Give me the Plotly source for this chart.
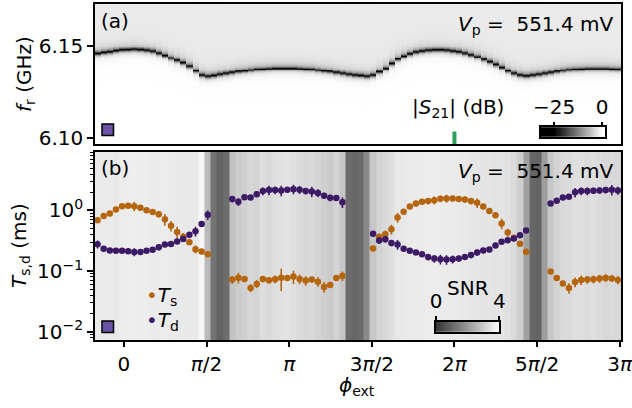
import numpy as np
import plotly.graph_objects as go

# ---------------- data ----------------
# external-flux sweep: one column per phi point
PHI_START = -0.5
PHI_STEP = np.pi / 27
N_PHI = 86
phi = PHI_START + PHI_STEP * np.arange(N_PHI)

# resonator frequency (GHz) at each flux point
f_res = [6.1459, 6.1464, 6.1467, 6.1473, 6.1477, 6.1478, 6.1480, 6.1478, 6.1475, 6.1470,
         6.1460, 6.1448, 6.1433, 6.1421, 6.1408, 6.1390, 6.1364, 6.1341, 6.1335, 6.1339,
         6.1345, 6.1350, 6.1355, 6.1361, 6.1364, 6.1368, 6.1372, 6.1373, 6.1375, 6.1377,
         6.1377, 6.1377, 6.1377, 6.1375, 6.1373, 6.1372, 6.1368, 6.1364, 6.1361, 6.1355,
         6.1350, 6.1345, 6.1341, 6.1339, 6.1335, 6.1341, 6.1359, 6.1377, 6.1404, 6.1428,
         6.1444, 6.1457, 6.1466, 6.1471, 6.1475, 6.1477, 6.1477, 6.1475, 6.1471, 6.1467,
         6.1460, 6.1451, 6.1440, 6.1426, 6.1413, 6.1399, 6.1383, 6.1364, 6.1350, 6.1341,
         6.1337, 6.1341, 6.1345, 6.1350, 6.1355, 6.1361, 6.1366, 6.1370, 6.1372, 6.1373,
         6.1375, 6.1375, 6.1375, 6.1375, 6.1373, 6.1372]

# switching times (ms); None where no fit
T_s = ([0.69, 0.81, 0.89, 1.04, 1.18, 1.20, 1.18, 1.11, 1.01, 0.94,
        0.87, 0.72, 0.56, 0.44, 0.37, 0.30, 0.23, 0.21, 0.19]
       + [None] * 3
       + [0.0724, 0.078, 0.0743, 0.0527, 0.0615, 0.0743, 0.0706, 0.0734, 0.078, 0.0772,
          0.0812, 0.0743, 0.0697, 0.0724, 0.067, 0.0548, 0.0592, 0.0772, 0.0833]
       + [None] * 4
       + [0.236, 0.367, 0.407, 0.492, 0.767, 0.952, 1.166, 1.31, 1.39, 1.43,
          1.48, 1.56, 1.58, 1.58, 1.54, 1.52, 1.43, 1.34, 1.166, 0.976,
          0.838, 0.61, 0.433, 0.354, 0.282, 0.208]
       + [None] * 3
       + [0.0982, 0.0772, 0.0622, 0.0527, 0.0663, 0.0715, 0.0724, 0.0734, 0.0753, 0.0772,
          0.0753, 0.0715])

T_d = ([0.278, 0.233, 0.218, 0.216, 0.216, 0.213, 0.207, 0.207, 0.216, 0.224,
        0.248, 0.274, 0.281, 0.307, 0.34, 0.396, 0.456, 0.60, 0.85]
       + [None] * 3
       + [1.54, 1.39, 1.66, 1.64, 1.86, 2.09, 2.17, 2.17, 2.14, 2.20,
          2.25, 2.20, 2.09, 2.06, 1.94, 1.75, 1.62, 1.60, 1.37]
       + [None] * 4
       + [0.412, 0.320, 0.336, 0.292, 0.275, 0.233, 0.216, 0.202, 0.190, 0.170,
          0.161, 0.157, 0.155, 0.157, 0.161, 0.170, 0.185, 0.202, 0.218, 0.227,
          0.264, 0.304, 0.324, 0.345, 0.392, 0.468]
       + [None] * 3
       + [1.31, 1.45, 1.64, 1.68, 1.99, 2.09, 2.09, 2.12, 2.14, 2.17,
          2.20, 2.14])

# relative fit uncertainties
T_s_relerr = ([0.10, 0.08, 0.06, 0.06, 0.08, 0.10, 0.18, 0.08, 0.06, 0.10,
               0.12, 0.22, 0.20, 0.22, 0.15, 0.08, 0.15, 0.10, 0.06]
              + [None] * 3
              + [0.15, 0.20, 0.12, 0.15, 0.15, 0.12, 0.12, 0.15, 0.40, 0.10,
                 0.25, 0.18, 0.18, 0.10, 0.18, 0.20, 0.10, 0.06, 0.18]
              + [None] * 4
              + [0.06, 0.10, 0.15, 0.18, 0.18, 0.10, 0.10, 0.10, 0.10, 0.12,
                 0.15, 0.12, 0.15, 0.10, 0.10, 0.12, 0.12, 0.18, 0.10, 0.10,
                 0.08, 0.20, 0.15, 0.10, 0.10, 0.06]
              + [None] * 3
              + [0.08, 0.08, 0.08, 0.20, 0.18, 0.18, 0.15, 0.15, 0.15, 0.15,
                 0.12, 0.15])

T_d_relerr = ([0.15, 0.06, 0.06, 0.06, 0.06, 0.06, 0.15, 0.06, 0.06, 0.06,
               0.12, 0.10, 0.08, 0.08, 0.10, 0.12, 0.18, 0.08, 0.18]
              + [None] * 3
              + [0.12, 0.15, 0.06, 0.06, 0.10, 0.15, 0.18, 0.15, 0.20, 0.06,
                 0.18, 0.15, 0.12, 0.20, 0.15, 0.12, 0.12, 0.10, 0.20]
              + [None] * 4
              + [0.06, 0.12, 0.12, 0.12, 0.18, 0.08, 0.08, 0.08, 0.10, 0.12,
                 0.15, 0.18, 0.18, 0.15, 0.12, 0.10, 0.12, 0.12, 0.10, 0.10,
                 0.08, 0.08, 0.06, 0.06, 0.08, 0.10]
              + [None] * 3
              + [0.08, 0.08, 0.08, 0.08, 0.18, 0.15, 0.15, 0.12, 0.12, 0.12,
                 0.20, 0.15])

# signal-to-noise ratio of each flux point
snr = ([3.59, 3.58, 3.60, 3.57, 3.62, 3.65, 3.66, 3.64, 3.65, 3.61,
        3.61, 3.62, 3.60, 3.57, 3.56, 3.58, 3.57, 3.82, 2.64]
       + [1.26, 0.97, 1.14]
       + [2.80, 2.98, 3.05, 3.21, 3.13, 3.33, 3.25, 3.37, 3.41, 3.45,
          3.37, 3.29, 3.21, 3.25, 3.13, 3.05, 2.96, 3.13, 2.88]
       + [1.10, 1.02, 1.10, 1.71]
       + [2.88, 3.13, 3.25, 3.37, 3.53, 3.55, 3.58, 3.60, 3.61, 3.62,
          3.63, 3.62, 3.60, 3.61, 3.58, 3.55, 3.49, 3.50, 3.47, 3.49,
          3.45, 3.47, 3.41, 3.29, 3.05, 2.15]
       + [1.02, 0.97, 2.07]
       + [2.88, 3.13, 3.25, 3.29, 3.37, 3.37, 3.29, 3.37, 3.29, 3.21,
          3.25, 3.21])

PHI_MARK = 2 * np.pi        # flux point highlighted in (a)
V_P_LABEL = "551.4 mV"

x_tickvals = [0, np.pi / 2, np.pi, 3 * np.pi / 2, 2 * np.pi, 5 * np.pi / 2, 3 * np.pi]
x_ticktext = ["0", "<i>π</i>/2", "<i>π</i>", "3<i>π</i>/2", "2<i>π</i>", "5<i>π</i>/2", "3<i>π</i>"]

# ---------------- transmission map |S21| ----------------
freq = np.arange(6.0965, 6.1735, 0.0005)          # probe frequency sweep (GHz)
det = (freq[:, None] - np.array(f_res)[None, :]) * 1e3   # detuning in MHz
background = np.where(det > 0, -2.0 - 4.0 * np.exp(-det / 2.5), -0.8 * np.exp(det / 1.0))
s21 = np.clip(background - 21.0 / (1.0 + (det / 0.8) ** 2), -25, 0)

ts = np.array(T_s, dtype=float)
td = np.array(T_d, dtype=float)
ts_err = ts * np.array(T_s_relerr, dtype=float)
td_err = td * np.array(T_d_relerr, dtype=float)

# ---------------- geometry helpers (pixels -> paper) ----------------
W, H = 632, 408
def px(x):
    return x / W
def py(y):
    return 1 - y / H

FONT = "DejaVu Sans"
FS = 20
C_S = "#b5650d"
C_D = "#3c1a66"

fig = go.Figure()

# (a) transmission map
fig.add_trace(go.Heatmap(x=phi, y=freq, z=s21, zmin=-25, zmax=0,
                         colorscale=[[0, "black"], [1, "white"]], showscale=False,
                         xaxis="x", yaxis="y", hoverinfo="skip"))

# (b) SNR stripes behind the data
fig.add_trace(go.Heatmap(x=phi, y=[1e-3, 1e2], z=[snr], zmin=0, zmax=4,
                         colorscale=[[0, "#333333"], [1, "#ffffff"]], showscale=False,
                         xaxis="x2", yaxis="y2", hoverinfo="skip"))

fig.add_trace(go.Scatter(x=phi, y=ts, mode="markers", name="T_s",
                         marker=dict(color=C_S, size=6.5),
                         error_y=dict(type="data", array=ts_err, color=C_S, thickness=1.6, width=0),
                         xaxis="x2", yaxis="y2", showlegend=False))
fig.add_trace(go.Scatter(x=phi, y=td, mode="markers", name="T_d",
                         marker=dict(color=C_D, size=6.5),
                         error_y=dict(type="data", array=td_err, color=C_D, thickness=1.6, width=0),
                         xaxis="x2", yaxis="y2", showlegend=False))

# inset colour bars (the |S21| bar runs a little past its end ticks)
S21_BAR = [-31.8, 1.7]
s21_scale = np.linspace(S21_BAR[0], S21_BAR[1], 200)
fig.add_trace(go.Heatmap(x=s21_scale, y=[0, 1], z=[s21_scale, s21_scale], zmin=-25, zmax=0,
                         colorscale=[[0, "black"], [1, "white"]], showscale=False,
                         xaxis="x3", yaxis="y3", hoverinfo="skip"))
snr_scale = np.linspace(0, 4, 200)
fig.add_trace(go.Heatmap(x=snr_scale, y=[0, 1], z=[snr_scale, snr_scale], zmin=0, zmax=4,
                         colorscale=[[0, "#333333"], [1, "#ffffff"]], showscale=False,
                         xaxis="x4", yaxis="y4", hoverinfo="skip"))

frame = dict(showline=True, linecolor="black", linewidth=1.6, mirror=True,
             showgrid=False, zeroline=False, automargin=False,
             tickfont=dict(family=FONT, size=FS, color="black"))

XDOM = [px(94.5), px(621)]
XRANGE = [phi[0] - PHI_STEP / 2, phi[-1] + PHI_STEP / 2]

fig.update_layout(
    template="none",
    width=W, height=H, autosize=False,
    margin=dict(l=0, r=0, t=0, b=0, pad=0),
    paper_bgcolor="white", plot_bgcolor="white",
    font=dict(family=FONT, size=FS, color="black"),
    xaxis=dict(domain=XDOM, range=XRANGE, anchor="y", showticklabels=False, ticks="", **frame),
    yaxis=dict(domain=[py(144), py(4)], range=[6.0967, 6.1728], anchor="x",
               tickvals=[6.10, 6.15], ticktext=["6.10", "6.15"],
               ticks="outside", ticklen=5.5, tickwidth=1.5, tickcolor="black", **frame),
    xaxis2=dict(domain=XDOM, range=XRANGE, anchor="y2",
                tickvals=x_tickvals, ticktext=x_ticktext, ticklabeloverflow="allow",
                ticks="outside", ticklen=5.5, tickwidth=1.5, tickcolor="black", **frame),
    yaxis2=dict(domain=[py(340), py(152)], type="log", range=[-2.137, 0.965], anchor="x2",
                tickvals=[0.01, 0.1, 1],
                ticktext=["10<sup>−2</sup>", "10<sup>−1</sup>", "10<sup>0</sup>"],
                ticks="outside", ticklen=5.5, tickwidth=1.5, tickcolor="black",
                minor=dict(ticks="outside", ticklen=3, tickwidth=1, tickcolor="black",
                           tickvals=[m * 10.0 ** e for e in (-3, -2, -1, 0) for m in range(2, 10)]),
                **frame),
    xaxis3=dict(domain=[px(541), px(605.3)], range=S21_BAR, anchor="y3", side="top",
                tickvals=[-25, 0], ticktext=["−25", "0"], ticks="outside", ticklen=3.5,
                tickwidth=1.5, tickcolor="black", **frame),
    yaxis3=dict(domain=[py(136.7), py(127.3)], range=[0, 1], anchor="x3",
                showticklabels=False, ticks="", showline=True, linecolor="black",
                linewidth=1.6, mirror=True, showgrid=False, zeroline=False, automargin=False),
    xaxis4=dict(domain=[px(436), px(499.3)], range=[0, 4], anchor="y4", side="top",
                tickvals=[0, 4], ticktext=["0", "4"], ticks="outside", ticklen=3.5,
                tickwidth=1.5, tickcolor="black", **frame),
    yaxis4=dict(domain=[py(331.7), py(321.7)], range=[0, 1], anchor="x4",
                showticklabels=False, ticks="", showline=True, linecolor="black",
                linewidth=1.6, mirror=True, showgrid=False, zeroline=False, automargin=False),
)

# flux marker in (a)
fig.add_shape(type="line", xref="x", yref="y", x0=PHI_MARK, x1=PHI_MARK,
              y0=6.0967, y1=6.1035, line=dict(color="#2ca05a", width=4))

# condition markers (purple squares)
for y0, y1 in ((124, 135.5), (321, 332.5)):
    fig.add_shape(type="rect", xref="paper", yref="paper",
                  x0=px(102), x1=px(113.5), y0=py(y1), y1=py(y0),
                  fillcolor="#6b52a6", line=dict(color="black", width=1.5))

def ann(text, x, y, xanchor="center", yanchor="middle", angle=0, size=FS):
    fig.add_annotation(text=text, x=px(x), y=py(y), xref="paper", yref="paper",
                       xanchor=xanchor, yanchor=yanchor, textangle=angle, showarrow=False,
                       font=dict(family=FONT, size=size, color="black"))

ann("(a)", 99, 21, xanchor="left")
ann("(b)", 99, 168, xanchor="left")
ann("<i>V</i><sub>p</sub> =\u00a0 " + V_P_LABEL, 616, 25, xanchor="right")
ann("<i>V</i><sub>p</sub> =\u00a0 " + V_P_LABEL, 616, 172, xanchor="right")
ann("|<i>S</i><sub>21</sub>| (dB)", 458, 108)
ann("SNR", 468, 288)
ann("<i>f</i><sub>r</sub> (GHz)", 25, 74, angle=-90)
ann("<i>T</i><sub>s,d</sub> (ms)", 20, 246, angle=-90)
ann("<i>ϕ</i><sub>ext</sub>", 357, 386)
ann("<span style='color:%s'>•</span><i>T</i><sub>s</sub>" % C_S, 144, 296, xanchor="left")
ann("<span style='color:%s'>•</span><i>T</i><sub>d</sub>" % C_D, 144, 321, xanchor="left")

fig.write_html("out.html")
